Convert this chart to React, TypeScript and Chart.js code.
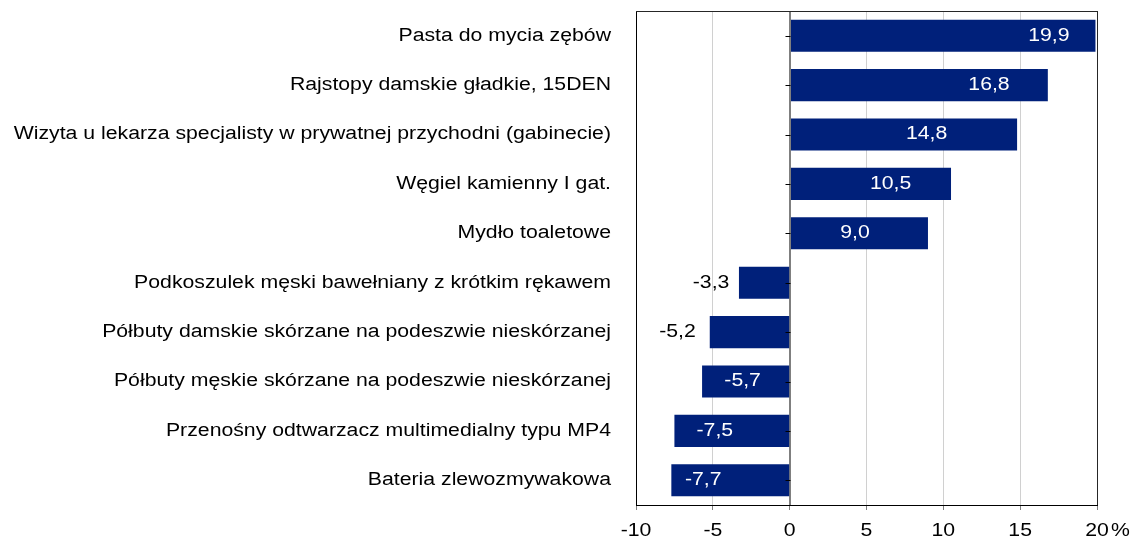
import React, { useEffect, useRef } from 'react';
import { Chart, registerables } from 'chart.js';

Chart.register(...registerables);

// ---- data ----
const categories = [
  'Pasta do mycia zębów',
  'Rajstopy damskie gładkie, 15DEN',
  'Wizyta u lekarza specjalisty w prywatnej przychodni (gabinecie)',
  'Węgiel kamienny I gat.',
  'Mydło toaletowe',
  'Podkoszulek męski bawełniany z krótkim rękawem',
  'Półbuty damskie skórzane na podeszwie nieskórzanej',
  'Półbuty męskie skórzane na podeszwie nieskórzanej',
  'Przenośny odtwarzacz multimedialny typu MP4',
  'Bateria zlewozmywakowa',
];
const values = [19.9, 16.8, 14.8, 10.5, 9.0, -3.3, -5.2, -5.7, -7.5, -7.7];
const xTicks = [-10, -5, 0, 5, 10, 15, 20];
const unitLabel = '%';

// ---- label styling (offset from bar centre, px) ----
const labelShiftPx = [106, 70, 23, 20, -4, -53, -72, -3, -17, -27];
const labelOutside = [false, false, false, false, false, true, true, false, false, false];

const FONT_FAMILY = "'Liberation Sans', Arial, Helvetica, sans-serif";
const FONT_SIZE = 18;
const TEXT_STRETCH = 1.18;
const BAR_COLOR = '#00207a';

const fmt = (v: number) => v.toFixed(1).replace('.', ',');

function stretchText(ctx: CanvasRenderingContext2D) {
  const anyCtx = ctx as any;
  if (anyCtx.__stretched) return;
  anyCtx.__stretched = true;
  const origFill = ctx.fillText.bind(ctx);
  const origMeasure = ctx.measureText.bind(ctx);
  anyCtx.fillText = (t: string, x: number, y: number, mw?: number) => {
    ctx.save();
    ctx.translate(x, y);
    ctx.scale(TEXT_STRETCH, 1);
    if (mw === undefined || mw === null) origFill(t, 0, 0);
    else origFill(t, 0, 0, mw / TEXT_STRETCH);
    ctx.restore();
  };
  anyCtx.measureText = (t: string) => {
    const m = origMeasure(t);
    return {
      width: m.width * TEXT_STRETCH,
      actualBoundingBoxLeft: m.actualBoundingBoxLeft * TEXT_STRETCH,
      actualBoundingBoxRight: m.actualBoundingBoxRight * TEXT_STRETCH,
      actualBoundingBoxAscent: m.actualBoundingBoxAscent,
      actualBoundingBoxDescent: m.actualBoundingBoxDescent,
      fontBoundingBoxAscent: (m as any).fontBoundingBoxAscent,
      fontBoundingBoxDescent: (m as any).fontBoundingBoxDescent,
    };
  };
}

const TICK_LEN = 5;
const TICK_PAD = 10;

const overlayPlugin = {
  id: 'overlay',
  afterDatasetsDraw(chart: any) {
    const { ctx, chartArea: a, scales } = chart;
    const xs = scales.x;
    const ys = scales.y;
    const x0 = Math.round(xs.getPixelForValue(0)) + 0.5;
    ctx.save();
    ctx.lineWidth = 1;
    // zero line
    ctx.strokeStyle = '#7f7f7f';
    ctx.beginPath();
    ctx.moveTo(x0, a.top);
    ctx.lineTo(x0, a.bottom);
    ctx.stroke();
    // category tick marks on the zero line
    ctx.strokeStyle = '#000';
    categories.forEach((_, i) => {
      const y = Math.round(ys.getPixelForValue(i)) + 0.5;
      ctx.beginPath();
      ctx.moveTo(x0 - 5, y);
      ctx.lineTo(x0, y);
      ctx.stroke();
    });
    // top and right frame
    ctx.strokeStyle = '#262626';
    ctx.beginPath();
    ctx.moveTo(a.left, Math.round(a.top) + 0.5);
    ctx.lineTo(Math.round(a.right) + 0.5, Math.round(a.top) + 0.5);
    ctx.lineTo(Math.round(a.right) + 0.5, a.bottom);
    ctx.stroke();
    // data labels
    const meta = chart.getDatasetMeta(0);
    ctx.font = `${FONT_SIZE}px ${FONT_FAMILY}`;
    ctx.textBaseline = 'middle';
    ctx.textAlign = 'center';
    meta.data.forEach((bar: any, i: number) => {
      const { x, y, base } = bar.getProps(['x', 'y', 'base'], true);
      const cx = (x + base) / 2 + labelShiftPx[i];
      ctx.fillStyle = labelOutside[i] ? '#000' : '#fff';
      ctx.fillText(fmt(values[i]), cx, y);
    });
    // unit label next to the last x tick
    ctx.fillStyle = '#000';
    ctx.textAlign = 'left';
    const ly = xs.top + TICK_LEN + TICK_PAD + (FONT_SIZE * 1.2) / 2;
    ctx.fillText(unitLabel, xs.right + 14, ly);
    ctx.restore();
  },
};

export default function App() {
  const ref = useRef<HTMLCanvasElement | null>(null);

  useEffect(() => {
    document.body.style.margin = '0';
    const canvas = ref.current;
    if (!canvas) return;
    const ctx = canvas.getContext('2d');
    if (!ctx) return;
    stretchText(ctx);

    const chart = new Chart(canvas, {
      type: 'bar',
      data: {
        labels: categories,
        datasets: [
          {
            data: values,
            backgroundColor: BAR_COLOR,
            borderWidth: 0,
            barPercentage: 0.65,
            categoryPercentage: 1,
          },
        ],
      },
      options: {
        indexAxis: 'y',
        responsive: false,
        animation: false,
        devicePixelRatio: 1,
        layout: { padding: { left: 0, right: 42, top: 11, bottom: 0 } },
        plugins: {
          legend: { display: false },
          tooltip: { enabled: false },
          title: { display: false },
        },
        scales: {
          x: {
            type: 'linear',
            min: -10,
            max: 20,
            afterBuildTicks: (s: any) => {
              s.ticks = xTicks.map((v) => ({ value: v }));
            },
            afterFit: (s: any) => {
              s.height = 34;
              s.paddingLeft = 0;
              s.paddingRight = 0;
            },
            grid: {
              display: true,
              drawTicks: true,
              tickLength: TICK_LEN,
              lineWidth: 1,
              color: (c: any) => {
                const v = c.tick ? c.tick.value : null;
                if (v === -10) return '#000';
                if (v === 0) return '#7f7f7f';
                if (v === 20) return '#262626';
                return '#d0d0d0';
              },
              tickColor: '#7f7f7f',
            },
            border: { display: true, color: '#000', width: 1 },
            ticks: {
              padding: TICK_PAD,
              color: '#000',
              font: { family: FONT_FAMILY, size: FONT_SIZE },
              maxRotation: 0,
              autoSkip: false,
              callback: (v: any) => String(v),
            },
          },
          y: {
            type: 'category',
            afterFit: (s: any) => {
              s.width = 636;
              s.paddingTop = 0;
              s.paddingBottom = 0;
            },
            grid: { display: false, drawTicks: false },
            border: { display: true, color: '#000', width: 1 },
            ticks: {
              padding: 25,
              color: '#000',
              autoSkip: false,
              font: { family: FONT_FAMILY, size: FONT_SIZE },
            },
          },
        },
      },
      plugins: [overlayPlugin],
    });

    return () => chart.destroy();
  }, []);

  return (
    <div style={{ position: 'absolute', left: 0, top: 0, width: 1139, height: 539 }}>
      <canvas ref={ref} width={1139} height={539} style={{ width: 1139, height: 539 }} />
    </div>
  );
}
